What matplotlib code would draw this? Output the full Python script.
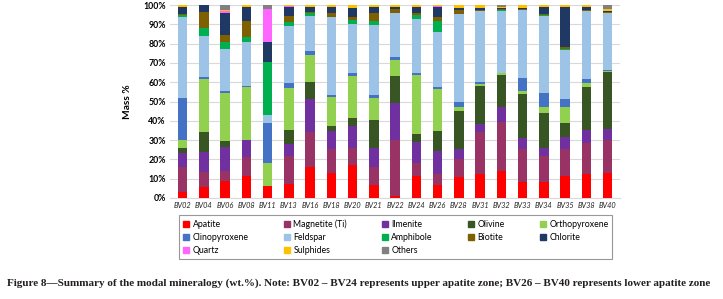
import numpy as np
import matplotlib
matplotlib.use("Agg")
import matplotlib.pyplot as plt
from matplotlib.patches import Patch

plt.rcParams['font.family'] = ['Lato', 'DejaVu Sans']

samples = ['BV02', 'BV04', 'BV06', 'BV08', 'BV11', 'BV13', 'BV16', 'BV18', 'BV20', 'BV21', 'BV22',
           'BV24', 'BV26', 'BV28', 'BV31', 'BV32', 'BV33', 'BV34', 'BV35', 'BV38', 'BV40']

# modal mineralogy, wt.%
apatite = [3.3, 5.5, 8.8, 11.6, 6.2, 7.4, 15.9, 12.8, 17.1, 6.6, 1.0, 11.6, 6.7, 10.7, 12.3, 14.0, 8.3, 8.3, 11.4, 12.4, 12.8]
magnetite = [13.0, 8.1, 5.2, 9.5, 0, 14.5, 18.5, 12.6, 9.0, 9.6, 29.0, 6.7, 5.7, 9.3, 22.1, 25.6, 16.9, 13.5, 13.8, 15.9, 17.2]
ilmenite = [7.0, 10.2, 12.6, 8.9, 0, 6.1, 16.9, 9.3, 11.2, 9.9, 19.4, 10.9, 12.0, 5.2, 3.9, 7.4, 6.1, 4.3, 6.4, 6.9, 5.8]
olivine = [2.8, 10.6, 3.1, 0, 0, 7.2, 9.0, 2.6, 4.0, 14.3, 13.8, 4.0, 10.5, 19.8, 19.7, 16.7, 22.4, 18.1, 7.4, 22.1, 29.7]
orthopyroxene = [4.0, 27.3, 24.9, 27.3, 11.8, 22.0, 13.8, 15.2, 21.9, 11.6, 8.3, 30.5, 21.4, 2.0, 1.1, 1.1, 1.7, 3.1, 8.0, 2.1, 0.3]
clinopyroxene = [21.5, 0.8, 1.0, 0.7, 21.0, 2.2, 2.2, 0.9, 1.4, 1.4, 1.4, 1.2, 1.0, 2.9, 1.0, 0, 6.9, 7.3, 4.5, 2.3, 0.5]
feldspar = [42.4, 21.5, 21.4, 22.7, 4.0, 29.7, 18.2, 40.6, 25.6, 36.2, 23.1, 27.8, 28.5, 45.4, 37.0, 32.3, 35.1, 39.7, 25.2, 35.3, 29.5]
amphibole = [1.0, 4.3, 3.8, 2.5, 27.6, 2.1, 1.2, 0, 2.0, 2.1, 0, 2.1, 5.9, 0.3, 0, 0.4, 0, 0.3, 0.3, 0, 0]
biotite = [0.5, 8.2, 3.5, 8.7, 0, 3.3, 0.7, 2.0, 1.8, 4.0, 1.8, 1.2, 2.3, 1.8, 0.5, 0.5, 0.6, 0.7, 1.4, 0.5, 0.5]
chlorite = [3.5, 3.3, 11.7, 6.9, 10.0, 4.6, 2.4, 2.8, 4.4, 3.1, 1.3, 2.8, 4.8, 0.9, 1.0, 0.5, 0.5, 3.5, 20.4, 1.3, 0.5]
quartz = [0, 0, 1.0, 0, 17.3, 0.3, 0, 0.3, 0, 0, 0, 0, 0.6, 0, 0, 0, 0, 0, 0, 0, 0]
sulphides = [1.0, 0.2, 0.5, 1.2, 0, 0.6, 1.2, 0.9, 1.6, 1.2, 0.9, 1.2, 0.6, 1.7, 1.4, 0.5, 1.5, 1.2, 1.2, 1.2, 1.0]
others = [0, 0, 2.5, 0, 2.1, 0, 0, 0, 0, 0, 0, 0, 0, 0, 0, 1.0, 0, 0, 0, 0, 2.2]

minerals = ['Apatite', 'Magnetite (Ti)', 'Ilmenite', 'Olivine', 'Orthopyroxene', 'Clinopyroxene',
            'Feldspar', 'Amphibole', 'Biotite', 'Chlorite', 'Quartz', 'Sulphides', 'Others']
series = [apatite, magnetite, ilmenite, olivine, orthopyroxene, clinopyroxene,
          feldspar, amphibole, biotite, chlorite, quartz, sulphides, others]
colors = ['#FF0000', '#993366', '#7030A0', '#375623', '#92D050', '#4472C4',
          '#9DC3E6', '#00B050', '#7F6000', '#1F3864', '#FF66FF', '#FFC000', '#808080']

data = np.array(series, dtype=float)
data = data / data.sum(axis=0) * 100  # 100% stacked

fig = plt.figure(figsize=(7.23, 2.99), dpi=100)
ax = fig.add_axes([0.235, 0.338, 0.623, 0.645])

x = np.arange(len(samples))
bottom = np.zeros(len(samples))
for vals, name, c in zip(data, minerals, colors):
    ax.bar(x, vals, 0.44, bottom=bottom, color=c, label=name, linewidth=0, zorder=3)
    bottom += vals

ax.set_ylim(0, 100)
ax.set_xlim(-0.6, len(samples) - 0.4)
ax.set_yticks(np.arange(0, 101, 10))
ax.set_yticklabels(['{}%'.format(v) for v in range(0, 101, 10)], fontsize=6.3, fontweight='bold')
ax.set_xticks(x)
ax.set_xticklabels(samples, fontsize=5.3, fontstyle='italic', color='#222222')
ax.tick_params(axis='both', length=0, pad=3)
ax.yaxis.grid(True, color='#D9D9D9', linewidth=0.8, zorder=0)
for s in ['top', 'right', 'left']:
    ax.spines[s].set_visible(False)
ax.spines['bottom'].set_color('#D9D9D9')
ax.set_ylabel('Mass %', fontsize=7.3, fontweight='bold', labelpad=8)

# legend laid out row by row: 5 columns
handles = [Patch(color=c, label=m) for m, c in zip(minerals, colors)]
order = [0, 5, 10, 1, 6, 11, 2, 7, 12, 3, 8, 4, 9]
leg = fig.legend([handles[i] for i in order], [minerals[i] for i in order],
                 ncol=5, loc='lower left', mode='expand',
                 bbox_to_anchor=(0.242, 0.12, 0.611, 0.138),
                 fontsize=6.3, frameon=True, fancybox=False, edgecolor='#7F7F7F',
                 handlelength=0.7, handleheight=0.7, handletextpad=0.4,
                 labelspacing=0.45, borderpad=0.45, columnspacing=1.0)
leg.get_frame().set_linewidth(0.8)

fig.text(0.01, 0.052, 'Figure 8\u2014Summary of the modal mineralogy (wt.%). Note: BV02 \u2013 BV24 represents upper apatite zone; '
         'BV26 \u2013 BV40 represents lower apatite zone',
         fontsize=8.0, fontweight='bold', family='Liberation Serif', color='#231F20', ha='left', va='center')

fig.savefig('out.png', dpi=100)
